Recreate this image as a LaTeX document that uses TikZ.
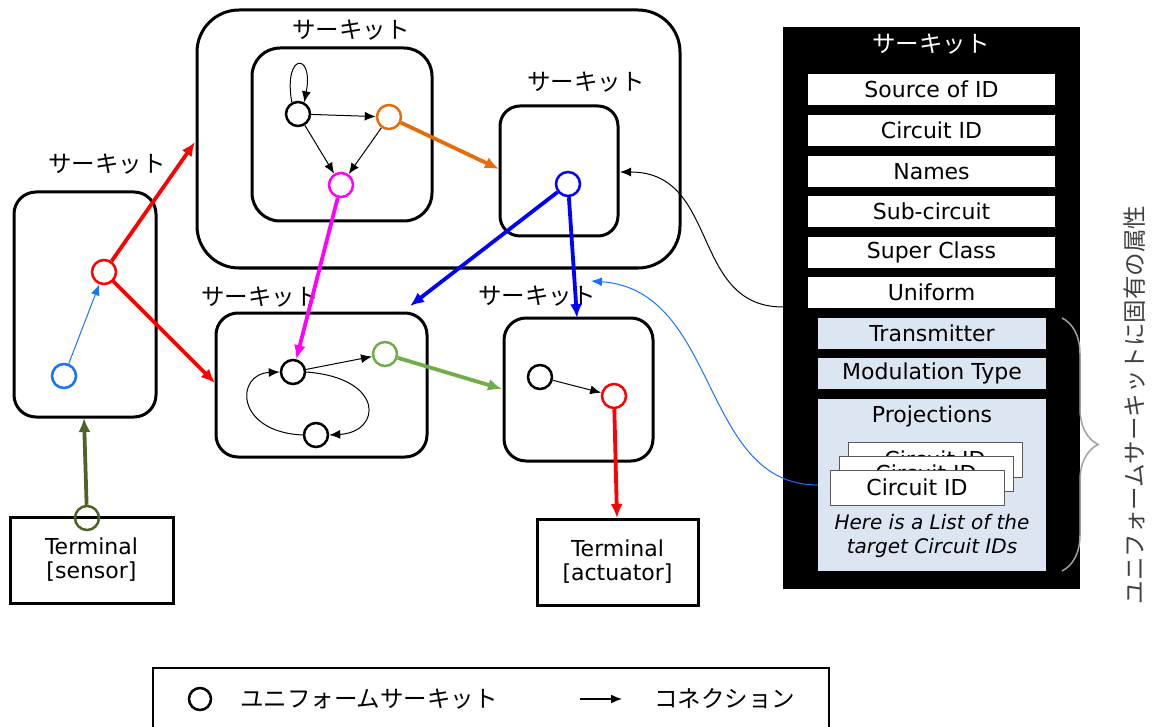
\documentclass[tikz,border=0pt]{standalone}
\usepackage{fontspec}
\setmainfont{DejaVu Sans}
\newfontfamily\jp{Noto Sans CJK JP}
\usetikzlibrary{arrows.meta,decorations.pathreplacing}
\definecolor{cRed}{RGB}{255,0,0}
\definecolor{cLBlue}{RGB}{20,115,255}
\definecolor{cOrange}{RGB}{228,108,10}
\definecolor{cMag}{RGB}{255,0,255}
\definecolor{cBlue}{RGB}{0,0,255}
\definecolor{cGreen}{RGB}{112,173,71}
\definecolor{cOlive}{RGB}{79,98,40}
\definecolor{cPale}{RGB}{220,230,242}
\definecolor{cGrey}{RGB}{160,160,160}
\begin{document}
\begin{tikzpicture}[x=1pt,y=-1pt,
  font=\fontsize{22}{26}\selectfont,
  cbox/.style={draw,line width=3pt,rounded corners=#1,inner sep=0pt},
  term/.style={draw,line width=3pt,minimum width=163pt,minimum height=86pt,align=center,inner sep=0pt},
  uc/.style={circle,draw=#1,line width=2.5pt,minimum size=24pt,inner sep=0pt},
  lbl/.style={font=\jp\fontsize{23.5}{27}\selectfont,inner sep=0pt},
  thick arrow/.style={draw=#1,line width=3.8pt,-{Latex[length=14pt,width=12pt]}},
  thin arrow/.style={draw=#1,line width=1pt,-{Latex[length=11pt,width=9pt]}},
  wrow/.style={fill=white,minimum width=247pt,minimum height=31pt,inner sep=0pt},
  prow/.style={fill=cPale,minimum width=228pt,minimum height=31pt,inner sep=0pt},
  idbox/.style={draw=black!65,fill=white,line width=1pt,minimum width=174pt,minimum height=35pt,inner sep=0pt}
]
\useasboundingbox (0,0) rectangle (1153,727);

% ---------- circuit boxes ----------
\node[cbox=22pt,minimum width=142pt,minimum height=225pt] (boxL) at (85,304.5) {};
\node[cbox=42pt,minimum width=483pt,minimum height=258pt] (boxBig) at (438.5,139) {};
\node[cbox=28pt,minimum width=180pt,minimum height=173pt] (boxA) at (342,134.5) {};
\node[cbox=20pt,minimum width=118pt,minimum height=130pt] (boxB) at (559,171) {};
\node[cbox=22pt,minimum width=211pt,minimum height=144pt] (boxC) at (321.5,385) {};
\node[cbox=22pt,minimum width=149pt,minimum height=143pt] (boxD) at (578.5,389.5) {};

\node[lbl] (labL) at (107,164) {サーキット};
\node[lbl] (labA) at (351,30) {サーキット};
\node[lbl] (labB) at (586,82) {サーキット};
\node[lbl] (labC) at (260,297) {サーキット};
\node[lbl] (labD) at (537,296) {サーキット};

% ---------- terminals ----------
\node[term] (termS) at (91.5,560) {Terminal\\[-2pt][sensor]};
\node[term,minimum width=161pt] (termA) at (617.5,562) {Terminal\\[-2pt][actuator]};

% ---------- uniform circuits ----------
\node[uc=cRed] (nLR) at (104,272) {};
\node[uc=cLBlue] (nLB) at (64,376) {};
\node[uc=black] (nA1) at (298,114) {};
\node[uc=cOrange] (nA2) at (389,117) {};
\node[uc=cMag] (nA3) at (341,185) {};
\node[uc=cBlue] (nB1) at (568,184) {};
\node[uc=black] (nC1) at (293,372) {};
\node[uc=cGreen] (nC2) at (385,354) {};
\node[uc=black] (nC3) at (316,435) {};
\node[uc=black] (nD1) at (540,377) {};
\node[uc=cRed] (nD2) at (614,396) {};
\node[uc=cOlive] (nS) at (87,518) {};

% ---------- end points on box borders ----------
\coordinate (eBigW) at (195,142);
\coordinate (eCW) at (215,383);
\coordinate (eBW) at (499,169);
\coordinate (eCNE) at (410,306);
\coordinate (eDN) at (577,318);
\coordinate (eDW) at (502,389);
\coordinate (eTA) at (617,518);
\coordinate (eLS) at (84,418);
\coordinate (eBE) at (620,172);
\coordinate (eUni) at (783,307);
\coordinate (eBlueTip) at (591,281);

% ---------- thin connections ----------
\draw[thin arrow=cLBlue] (nLB) -- (nLR);
\draw[thin arrow=black] (nA1.118) .. controls (283,52) and (314,52) .. (nA1.62);
\draw[thin arrow=black] (nA1) -- (nA2);
\draw[thin arrow=black] (nA1) -- (nA3);
\draw[thin arrow=black] (nA2) -- (nA3);
\draw[thin arrow=black] (nC1) -- (nC2);
\draw[thin arrow=black] (nC1.east) .. controls (385,378) and (382,432) .. (nC3.east);
\draw[thin arrow=black] (nC3.west) .. controls (235,432) and (235,374) .. (nC1.west);
\draw[thin arrow=black] (nD1) -- (nD2);

% ---------- thick connections ----------
\draw[thick arrow=cRed] (nLR) -- (eBigW);
\draw[thick arrow=cRed] (nLR) -- (eCW);
\draw[thick arrow=cOrange] (nA2) -- (eBW);
\draw[thick arrow=cMag] (nA3) -- (nC1);
\draw[thick arrow=cBlue] (nB1) -- (eCNE);
\draw[thick arrow=cBlue] (nB1) -- (eDN);
\draw[thick arrow=cGreen] (nC2) -- (eDW);
\draw[thick arrow=cRed] (nD2) -- (eTA);
\draw[thick arrow=cOlive] (nS) -- (eLS);

% ---------- right panel ----------
\node[fill=black,minimum width=297pt,minimum height=562pt,inner sep=0pt] (panel) at (931.5,308) {};
\node[lbl,text=white] (ptitle) at (931,44) {サーキット};
\node[wrow] (rSrc) at (931.5,89.5) {Source of ID};
\node[wrow] (rCid) at (931.5,130.5) {Circuit ID};
\node[wrow] (rNam) at (931.5,171.5) {Names};
\node[wrow] (rSub) at (931.5,211.5) {Sub-circuit};
\node[wrow] (rSup) at (931.5,252.5) {Super Class};
\node[wrow] (rUni) at (931.5,292.5) {Uniform};
\node[prow] (rTx) at (932,333.5) {Transmitter};
\node[prow] (rMod) at (932,373.5) {Modulation Type};
\node[prow,minimum height=172pt] (rProj) at (932,485) {};
\node[inner sep=0pt] (tProj) at (932,416) {Projections};
\node[idbox] (id3) at (935,459.5) {Circuit ID};
\node[idbox] (id2) at (926,473.5) {Circuit ID};
\node[idbox] (id1) at (917,487.5) {Circuit ID};
\node[inner sep=0pt,align=center,font=\itshape\fontsize{20}{24}\selectfont] (tList) at (932,536) {Here is a List of the\\target Circuit IDs};

% ---------- curves from panel ----------
\draw[thin arrow=black] (eUni) .. controls (690,307) and (720,172) .. (eBE);
\draw[thin arrow=cLBlue] (rProj.west) .. controls (700,485) and (720,290) .. (eBlueTip);

% ---------- brace and vertical label ----------
\draw[draw=cGrey,line width=1.5pt,decorate,decoration={brace,amplitude=36pt,aspect=0.5}] (1062,318) -- (1062,571);
\node[lbl,rotate=90,text=black!75] (vlab) at (1135,405) {ユニフォームサーキットに固有の属性};

% ---------- legend ----------
\draw[line width=2pt] (153,735) -- (153,668) -- (829,668) -- (829,735);
\node[uc=black,minimum size=22pt] (legC) at (200,699) {};
\node[lbl,anchor=west] (legT1) at (240,699) {ユニフォームサーキット};
\coordinate (legA0) at (580,699);
\coordinate (legA1) at (622,699);
\draw[thin arrow=black,line width=1.5pt] (legA0) -- (legA1);
\node[lbl,anchor=west] (legT2) at (654,699) {コネクション};
\end{tikzpicture}
\end{document}
